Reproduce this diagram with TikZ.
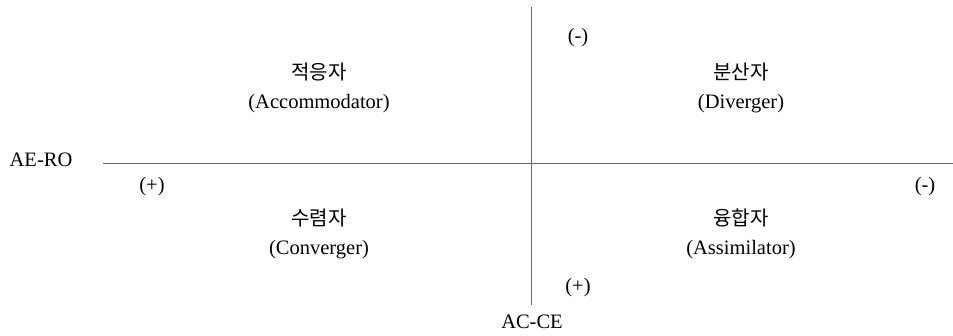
\documentclass[tikz,border=0pt]{standalone}
\usepackage{fontspec}
\setmainfont{Liberation Serif}
\newfontfamily\kofont{Noto Sans CJK KR}
\begin{document}
\begin{tikzpicture}[x=1pt,y=1pt,
  axis/.style={draw=black!60,line width=1.3pt},
  lbl/.style={font=\fontsize{20.5}{24}\selectfont,inner sep=0pt,anchor=center},
  kolbl/.style={font=\kofont\fontsize{20}{24}\selectfont,inner sep=0pt,anchor=center}]
\useasboundingbox (0,0) rectangle (953,335);
\coordinate (hl) at (103,171.7);
\coordinate (hr) at (953,171.7);
\coordinate (vt) at (531.7,328);
\coordinate (vb) at (531.7,30);
\draw[axis] (hl) -- (hr);
\draw[axis] (vt) -- (vb);
\node[kolbl] (acck) at (319,263) {적응자};
\node[lbl] (acc) at (319,231) {(Accommodator)};
\node[kolbl] (divk) at (741,263) {분산자};
\node[lbl] (div) at (741,231) {(Diverger)};
\node[kolbl] (conk) at (319,117) {수렴자};
\node[lbl] (con) at (319,85) {(Converger)};
\node[kolbl] (assk) at (741,117) {융합자};
\node[lbl] (ass) at (741,85) {(Assimilator)};
\node[lbl] (aero) at (41,175) {AE-RO};
\node[lbl] (lp) at (152,148) {(+)};
\node[lbl] (rm) at (925,148) {(-)};
\node[lbl] (tm) at (578,297) {(-)};
\node[lbl] (bp) at (578,47) {(+)};
\node[lbl] (acce) at (532,13) {AC-CE};
\end{tikzpicture}
\end{document}
